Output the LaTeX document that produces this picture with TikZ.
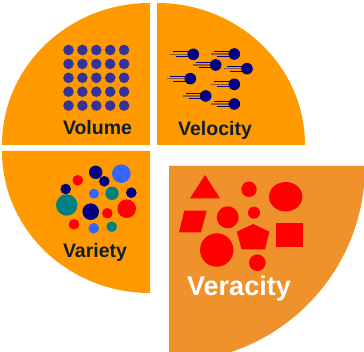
\documentclass[tikz,border=0pt]{standalone}
\usepackage{fontspec}
\setmainfont{Liberation Sans}
\usepackage{xcolor}
\definecolor{vorange}{HTML}{FF9900}
\definecolor{vdeep}{HTML}{F0922B}
\definecolor{vnavy}{HTML}{000080}
\definecolor{vviolet}{HTML}{333399}
\definecolor{vblue}{HTML}{3366FF}
\definecolor{vteal}{HTML}{008080}
\definecolor{vbrown}{HTML}{8B5A3C}
\definecolor{vtext}{HTML}{0C1E30}

\begin{document}
\begin{tikzpicture}[x=1pt,y=-1pt]
            \tikzset{
            v4 label/.style={anchor=base,inner sep=0,font=\bfseries\fontsize{19.5}{19.5}\selectfont,text=vtext},
            v4 ball/.style={fill=vnavy},
            v4 streak/.style={line width=1.1pt}
            }
            \useasboundingbox (0,0) rectangle (364,352);

            % the four quarters
            \fill[vorange] (150,145) -- (2,145) arc[start angle=180,end angle=270,x radius=148,y radius=142] -- cycle;
            \fill[vorange] (157,145) -- (157,3) arc[start angle=270,end angle=360,x radius=148,y radius=142] -- cycle;
            \fill[vorange] (150,151) -- (2,151) arc[start angle=180,end angle=90,x radius=148,y radius=142] -- cycle;
            \begin{scope}
            \clip (0,0) rectangle (364,352);
            \fill[vdeep] (169,166) -- (365,166) arc[start angle=0,end angle=90,radius=196] -- cycle;
            \end{scope}

            % volume
            \foreach \i in {0,...,4}
              \foreach \j in {0,...,4}
                \fill[vviolet] (68.5+13.9*\i,50+13.9*\j) circle[radius=5.3];
            \node[v4 label] (volume) at (97.5,135) {Volume};

            % velocity
            \foreach \x/\y in {193.3/54.3,234.3/54,215.7/65,247/68.7,190.3/78.7,234.3/84.3,205.7/96,234.3/104}{
              \draw[vnavy,v4 streak] (\x-20,\y-2.5) -- (\x-5,\y-2.5);
              \draw[vbrown,v4 streak] (\x-23,\y) -- (\x-5,\y);
              \draw[vnavy,v4 streak] (\x-17,\y+2.5) -- (\x-5,\y+2.5);
              \fill[v4 ball] (\x,\y) circle[radius=5.8];
            }
            \node[v4 label] (velocity) at (215,136) {Velocity};

            % variety
            \foreach \x/\y/\r/\c in {77.7/180.3/5.3/red,95.7/172.3/6.7/vnavy,121.3/173.7/9.3/vblue,
                104.3/181.3/5.3/vnavy,65.7/189/5.3/vnavy,94/193.7/5/vblue,112/193.3/6.7/vteal,
                131.3/192.7/5.3/vnavy,66.7/205/10.7/vteal,90.7/211.7/8.3/vnavy,107.3/213.3/5.3/red,
                126.7/208.7/9.3/red,74/224.3/5.3/red,93.7/228.3/5.3/vblue,111.7/226.7/5.3/vteal}
              \fill[\c] (\x,\y) circle[radius=\r];
            \node[v4 label] (variety) at (95,258) {Variety};

            % veracity
            \fill[red] (205,175) -- (220,198.3) -- (190,198.3) -- cycle;
            \fill[red] (184.3,210.7) -- (206.7,210.7) -- (201,232.3) -- (179,232.3) -- cycle;
            \fill[red] (253.3,224) -- (269.3,231.7) -- (265,249.3) -- (241.7,249.3) -- (236.7,231.7) -- cycle;
            \fill[red] (276,223.3) rectangle (302.7,246.7);
            \fill[red] (285.7,196.7) ellipse[x radius=16.7,y radius=14.7];
            \foreach \x/\y/\r in {249/189.3/7.7,227.7/217.3/11,254/212.7/6,216.7/250/16.7,257.3/262.7/8.3}
              \fill[red] (\x,\y) circle[radius=\r];
            \node[v4 label,text=white,font=\bfseries\fontsize{27}{27}\selectfont] (veracity) at (239,296) {Veracity};
        \end{tikzpicture}
\end{document}
